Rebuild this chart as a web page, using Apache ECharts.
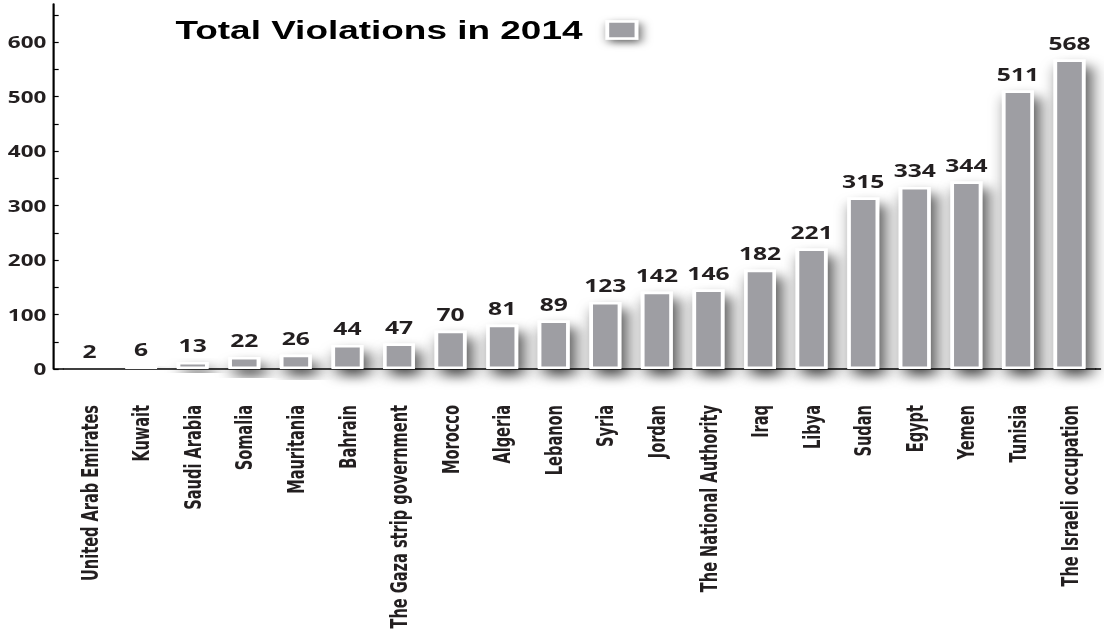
<!DOCTYPE html>
<html>
<head>
<meta charset="utf-8">
<title>Total Violations in 2014</title>
<script src="https://cdn.jsdelivr.net/npm/echarts@6/dist/echarts.min.js"></script>
<style>
  html, body { margin: 0; padding: 0; background: #ffffff; overflow: hidden; }
  /* The chart is laid out in a narrower box and stretched sideways,
     which gives the wide horizontal type and the tall, condensed rotated labels. */
  #chart { width: 762px; height: 634px; transform: scaleX(1.4488); transform-origin: 0 0; }
</style>
</head>
<body>
<div id="chart"></div>
<script>
const categories = [
  'United Arab Emirates', 'Kuwait', 'Saudi Arabia', 'Somalia', 'Mauritania',
  'Bahrain', 'The Gaza strip government', 'Morocco', 'Algeria', 'Lebanon',
  'Syria', 'Jordan', 'The National Authority', 'Iraq', 'Libya',
  'Sudan', 'Egypt', 'Yemen', 'Tunisia', 'The Israeli occupation'
];
const violations = [2, 6, 13, 22, 26, 44, 47, 70, 81, 89, 123, 142, 146, 182, 221, 315, 334, 344, 511, 568];
const seriesName = 'Total Violations in 2014';
const yTickStep = 50;
const yLabelStep = 100;
const yMax = 670;

const GRID = { left: 44, right: 6, top: 4, bottom: 265 };
const Y_AXIS_OFFSET = 7;
const CHART_W = 762, CHART_H = 634;
const INK = '#231f20';
const BAR_GRAY = '#9e9ea3';

const chart = echarts.init(document.getElementById('chart'), null, { renderer: 'svg' });

const axisY = CHART_H - GRID.bottom;

chart.setOption({
  animation: false,
  backgroundColor: '#ffffff',
  legend: {
    data: [{ name: seriesName, icon: 'rect' }],
    left: 116,
    top: 12,
    align: 'right',
    itemWidth: 20,
    itemHeight: 17,
    formatter: name => name + ' \u2009',
    textStyle: { fontFamily: 'Liberation Sans, Arial, sans-serif', fontWeight: 'bold', fontSize: 25.5, color: '#000000' },
    itemStyle: {
      color: BAR_GRAY, borderColor: '#ffffff', borderWidth: 2.5,
      shadowBlur: 7, shadowColor: 'rgba(0,0,0,0.6)', shadowOffsetX: 2, shadowOffsetY: 3
    }
  },
  grid: {
    left: GRID.left, right: GRID.right, top: GRID.top, bottom: GRID.bottom,
    containLabel: false, outerBoundsMode: 'none'
  },
  xAxis: {
    type: 'category',
    data: categories,
    boundaryGap: true,
    axisLine: { show: true, lineStyle: { color: '#000000', width: 1.5 } },
    axisTick: { show: false },
    axisLabel: {
      rotate: 90,
      interval: 0,
      margin: 36,
      fontFamily: 'Liberation Sans Narrow, DejaVu Sans Condensed, sans-serif',
      fontWeight: 'bold',
      fontSize: 16.2,
      color: INK
    },
    splitLine: { show: false }
  },
  yAxis: {
    type: 'value',
    min: 0,
    max: yMax,
    interval: yTickStep,
    offset: Y_AXIS_OFFSET,
    axisLine: { show: true, lineStyle: { color: '#000000', width: 1.5 } },
    axisTick: { show: true, inside: true, length: 3.5, lineStyle: { color: '#000000', width: 1.2 } },
    axisLabel: {
      margin: 5,
      showMaxLabel: false,
      fontFamily: 'Open Sans, DejaVu Sans, sans-serif',
      fontWeight: 'bold',
      fontSize: 15.5,
      color: INK,
      formatter: v => (v % yLabelStep === 0 ? String(v) : '')
    },
    splitLine: { show: false }
  },
  series: [{
    name: seriesName,
    type: 'bar',
    data: violations,
    barWidth: 22,
    itemStyle: {
      color: BAR_GRAY,
      borderColor: '#ffffff',
      borderWidth: 2.5,
      shadowBlur: 12,
      shadowColor: 'rgba(0,0,0,0.7)',
      shadowOffsetX: 4,
      shadowOffsetY: 7
    },
    label: {
      show: true,
      position: 'top',
      distance: 8,
      fontFamily: 'Open Sans, DejaVu Sans, sans-serif',
      fontWeight: 'bold',
      fontSize: 17,
      color: INK
    }
  }],
  graphic: [
    {
      // joins the x axis line to the offset y axis line, and runs it to the right edge
      type: 'line', silent: true, z: 1,
      shape: { x1: GRID.left - Y_AXIS_OFFSET, y1: axisY, x2: GRID.left, y2: axisY },
      style: { stroke: '#000000', lineWidth: 1.5 }
    },
    {
      type: 'line', silent: true, z: 1,
      shape: { x1: CHART_W - GRID.right, y1: axisY, x2: CHART_W - 2, y2: axisY },
      style: { stroke: '#000000', lineWidth: 1.5 }
    }
  ]
});
</script>
</body>
</html>
